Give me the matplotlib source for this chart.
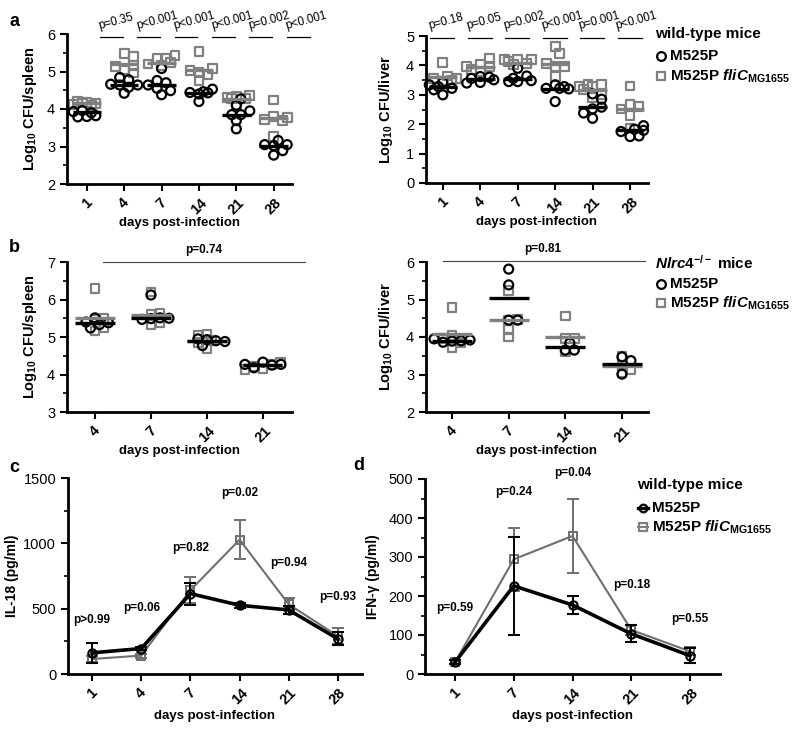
import numpy as np
import matplotlib
matplotlib.use('Agg')
import matplotlib.pyplot as plt
from matplotlib.lines import Line2D
from matplotlib.ticker import MultipleLocator

plt.rcParams['font.family'] = ['Liberation Sans', 'DejaVu Sans']
plt.rcParams['mathtext.fontset'] = 'custom'
plt.rcParams['mathtext.rm'] = 'Liberation Sans:bold'
plt.rcParams['mathtext.it'] = 'Liberation Sans:italic:bold'
plt.rcParams['mathtext.bf'] = 'Liberation Sans:bold'

# ---------------- data ----------------
days_a = ['1', '4', '7', '14', '21', '28']
days_b = ['4', '7', '14', '21']
days_c = ['1', '4', '7', '14', '21', '28']
days_d = ['1', '7', '14', '21', '28']

# panel a, wild-type mice, log10 CFU/spleen
spleen_wt_m525p = [
    [3.80, 3.82, 3.79, 3.93, 3.96, 3.90],
    [4.42, 4.58, 4.64, 4.64, 4.66, 4.78, 4.84],
    [4.38, 4.49, 4.55, 4.64, 4.70, 4.76, 5.08],
    [4.20, 4.40, 4.43, 4.44, 4.46, 4.53],
    [3.47, 3.69, 3.85, 3.85, 3.95, 4.10, 4.27],
    [2.77, 2.89, 3.02, 3.05, 3.05, 3.16],
]
spleen_wt_m525p_center = [3.92, 4.64, 4.63, 4.43, 3.85, 3.02]
spleen_wt_fli = [
    [4.18, 4.15, 4.20, 4.12, 4.16, 4.10],
    [5.47, 5.04, 5.40, 5.16, 5.13, 4.96],
    [5.16, 5.24, 5.35, 5.20, 5.35, 5.42],
    [4.98, 5.53, 4.76, 4.93, 5.02, 5.08],
    [4.34, 4.09, 4.27, 4.31, 4.28, 4.36],
    [3.26, 3.80, 3.69, 4.24, 3.73, 3.78],
]
spleen_wt_fli_center = [4.15, 5.20, 5.22, 5.03, 4.27, 3.75]
spleen_wt_p = ['p=0.35', 'p<0.001', 'p<0.001', 'p<0.001', 'p=0.002', 'p<0.001']

# panel a, wild-type mice, log10 CFU/liver
liver_wt_m525p = [
    [3.00, 3.42, 3.22, 3.17, 3.28, 3.34],
    [3.42, 3.60, 3.56, 3.51, 3.62, 3.40],
    [3.45, 3.64, 3.45, 3.90, 3.48, 3.56],
    [3.34, 2.77, 3.28, 3.22, 3.22, 3.20],
    [2.52, 2.20, 3.03, 2.58, 2.38, 2.85],
    [1.58, 1.83, 1.75, 1.95, 1.60, 1.79],
]
liver_wt_m525p_center = [3.28, 3.54, 3.54, 3.20, 2.60, 1.80]
liver_wt_fli = [
    [3.47, 3.50, 4.10, 3.56, 3.64, 3.56],
    [3.79, 3.96, 4.05, 3.85, 4.24, 3.96],
    [4.19, 4.07, 4.13, 4.02, 4.19, 4.20],
    [3.96, 4.64, 3.62, 4.41, 3.96, 4.07],
    [2.91, 3.28, 3.34, 3.19, 3.28, 3.00, 3.37],
    [1.87, 2.66, 3.30, 2.29, 2.60, 2.52],
]
liver_wt_fli_center = [3.60, 3.93, 4.07, 4.05, 3.16, 2.52]
liver_wt_p = ['p=0.18', 'p=0.05', 'p=0.002', 'p<0.001', 'p=0.001', 'p<0.001']

# panel b, Nlrc4-/- mice
spleen_ko_m525p = [
    [5.51, 5.33, 5.40, 5.24, 5.38],
    [5.49, 6.12, 5.51, 5.47, 5.50],
    [4.93, 4.90, 4.77, 4.95, 4.88],
    [4.33, 4.25, 4.18, 4.27, 4.27],
]
spleen_ko_m525p_center = [5.38, 5.50, 4.89, 4.25]
spleen_ko_fli = [
    [5.16, 5.47, 6.30, 5.50, 5.24],
    [5.33, 5.60, 6.20, 5.38, 5.63],
    [4.69, 5.08, 4.90, 5.05, 4.85],
    [4.16, 4.27, 4.22, 4.31, 4.13],
]
spleen_ko_fli_center = [5.50, 5.60, 4.90, 4.25]
spleen_ko_p = 'p=0.74'

liver_ko_m525p = [
    [3.89, 3.90, 3.86, 3.92, 3.95],
    [4.45, 5.81, 5.39, 4.45],
    [3.65, 3.84, 3.65],
    [3.47, 3.01, 3.37],
]
liver_ko_m525p_center = [3.89, 5.03, 3.73, 3.28]
liver_ko_fli = [
    [3.73, 4.78, 3.84, 4.05, 3.95],
    [4.45, 5.25, 4.20, 4.00, 4.47],
    [3.60, 4.56, 3.95, 3.97],
    [3.25, 3.47, 3.12, 3.05],
]
liver_ko_fli_center = [4.07, 4.45, 4.01, 3.23]
liver_ko_p = 'p=0.81'

# panel c, IL-18 (pg/ml)
il18_m525p = [162, 195, 615, 526, 490, 269]
il18_m525p_err = [76, 15, 85, 20, 30, 50]
il18_fli = [115, 141, 641, 1028, 533, 290]
il18_fli_err = [20, 15, 100, 150, 45, 60]
il18_p = ['p>0.99', 'p=0.06', 'p=0.82', 'p=0.02', 'p=0.94', 'p=0.93']
il18_p_y = [413, 505, 964, 1385, 850, 589]

# panel d, IFN-gamma (pg/ml)
ifn_m525p = [30, 226, 177, 103, 47]
ifn_m525p_err = [5, 125, 22, 22, 20]
ifn_fli = [30, 294, 354, 113, 58]
ifn_fli_err = [5, 80, 95, 12, 10]
ifn_p = ['p=0.59', 'p=0.24', 'p=0.04', 'p=0.18', 'p=0.55']
ifn_p_y = [169, 467, 515, 228, 141]

BLACK = 'black'
GREY = '#808080'
GREY2 = '#6f6f6f'
FLI_LABEL = r'M525P $\mathit{fliC}_{\mathrm{MG1655}}$'

W, H = 800, 731
fig = plt.figure(figsize=(8, 7.31), dpi=100)


def fx(x):
    return x / W


def fy(y):
    return 1 - y / H


def style_axes(ax):
    for s in ['top', 'right']:
        ax.spines[s].set_visible(False)
    for s in ['left', 'bottom']:
        ax.spines[s].set_linewidth(2.0)
    ax.tick_params(axis='both', which='major', width=1.5, length=5, labelsize=10.5, direction='out')
    ax.tick_params(axis='y', which='minor', width=1.2, length=3, direction='out')
    ax.tick_params(axis='x', which='minor', bottom=False)


def set_xcats(ax, labels, lo, hi):
    ax.set_xticks(range(len(labels)))
    ax.set_xticklabels(labels, rotation=45, ha='center', fontweight='bold', fontsize=10.5)
    ax.set_xlim(lo, hi)


def swarm_offsets(vals, ppu_x, ppu_y, diam=7.5, maxoff=0.38):
    placed = []
    offs = []
    step = diam * 0.6
    nmax = int(maxoff * ppu_x / step)
    cands = [0.0]
    for k in range(1, nmax + 1):
        cands += [k * step, -k * step]
    for v in vals:
        y = v * ppu_y
        best, bestd = cands[0], -1.0
        for c in cands:
            d = min([((c - px) ** 2 + (y - py) ** 2) ** 0.5 for px, py in placed] or [1e9])
            if d >= diam:
                best = c
                break
            if d > bestd:
                best, bestd = c, d
        placed.append((best, y))
        offs.append(best / ppu_x)
    return np.array(offs)


def scatter_panel(ax, labels, wt, wt_c, fli, fli_c, ppu_x, ppu_y, half):
    for i in range(len(labels)):
        o = swarm_offsets(fli[i], ppu_x, ppu_y)
        ax.scatter(o + i, fli[i], marker='s', s=40, facecolors='none', edgecolors=GREY,
                   linewidths=1.6, zorder=2, clip_on=False)
        o = swarm_offsets(wt[i], ppu_x, ppu_y)
        ax.scatter(o + i, wt[i], marker='o', s=42, facecolors='none', edgecolors=BLACK,
                   linewidths=1.6, zorder=3, clip_on=False)
        ax.plot([i - half, i + half], [fli_c[i]] * 2, color=GREY, lw=2.4, zorder=4,
                solid_capstyle='butt')
        ax.plot([i - half, i + half], [wt_c[i]] * 2, color=BLACK, lw=2.4, zorder=5,
                solid_capstyle='butt')


# ---------------- panel a spleen ----------------
ax1 = fig.add_axes([fx(67), fy(184), fx(225), 150 / H])
style_axes(ax1)
scatter_panel(ax1, days_a, spleen_wt_m525p, spleen_wt_m525p_center, spleen_wt_fli,
              spleen_wt_fli_center, 37.4, 37.5, 0.38)
ax1.set_ylim(2, 6)
ax1.yaxis.set_major_locator(MultipleLocator(1))
ax1.yaxis.set_minor_locator(MultipleLocator(0.5))
set_xcats(ax1, days_a, -0.53, 5.49)
ax1.set_ylabel(r'Log$_{10}$ CFU/spleen', fontweight='bold', fontsize=10.5, labelpad=6)
ax1.set_xlabel('days post-infection', fontweight='bold', fontsize=9.5, labelpad=0)
for i, p in enumerate(spleen_wt_p):
    ax1.plot([i + 0.35, i + 0.96], [5.91, 5.91], color=BLACK, lw=0.9, clip_on=False)
    ax1.text(i + 0.35, 6.12, p, rotation=15, rotation_mode='anchor', ha='left',
             va='baseline', fontsize=8.4)

# ---------------- panel a liver ----------------
ax2 = fig.add_axes([fx(426), fy(183), fx(222), 147 / H])
style_axes(ax2)
scatter_panel(ax2, days_a, liver_wt_m525p, liver_wt_m525p_center, liver_wt_fli,
              liver_wt_fli_center, 37.4, 29.4, 0.38)
ax2.set_ylim(0, 5)
ax2.yaxis.set_major_locator(MultipleLocator(1))
ax2.yaxis.set_minor_locator(MultipleLocator(0.5))
set_xcats(ax2, days_a, -0.45, 5.48)
ax2.set_ylabel(r'Log$_{10}$ CFU/liver', fontweight='bold', fontsize=10.5, labelpad=8)
ax2.set_xlabel('days post-infection', fontweight='bold', fontsize=9.5, labelpad=0)
for i, p in enumerate(liver_wt_p):
    ax2.plot([i - 0.33, i + 0.31], [4.93, 4.93], color=BLACK, lw=0.9, clip_on=False)
    ax2.text(i - 0.35, 5.24, p, rotation=15, rotation_mode='anchor', ha='left',
             va='baseline', fontsize=8.4)

# ---------------- panel b spleen ----------------
ax3 = fig.add_axes([fx(67), fy(412), fx(225), 150 / H])
style_axes(ax3)
scatter_panel(ax3, days_b, spleen_ko_m525p, spleen_ko_m525p_center, spleen_ko_fli,
              spleen_ko_fli_center, 56.0, 37.5, 0.35)
ax3.set_ylim(3, 7)
ax3.yaxis.set_major_locator(MultipleLocator(1))
ax3.yaxis.set_minor_locator(MultipleLocator(0.5))
set_xcats(ax3, days_b, -0.5, 3.52)
ax3.set_ylabel(r'Log$_{10}$ CFU/spleen', fontweight='bold', fontsize=10.5, labelpad=6)
ax3.set_xlabel('days post-infection', fontweight='bold', fontsize=9.5, labelpad=0)
ax3.plot([0.14, 3.75], [7, 7], color='#444444', lw=0.8, clip_on=False)
ax3.text(1.95, 7.32, spleen_ko_p, ha='center', va='center', fontsize=8.5, fontweight='bold')

# ---------------- panel b liver ----------------
ax4 = fig.add_axes([fx(426), fy(412), fx(222), 150 / H])
style_axes(ax4)
scatter_panel(ax4, days_b, liver_ko_m525p, liver_ko_m525p_center, liver_ko_fli,
              liver_ko_fli_center, 56.7, 37.5, 0.35)
ax4.set_ylim(2, 6)
ax4.yaxis.set_major_locator(MultipleLocator(1))
ax4.yaxis.set_minor_locator(MultipleLocator(0.5))
set_xcats(ax4, days_b, -0.46, 3.46)
ax4.set_ylabel(r'Log$_{10}$ CFU/liver', fontweight='bold', fontsize=10.5, labelpad=8)
ax4.set_xlabel('days post-infection', fontweight='bold', fontsize=9.5, labelpad=0)
ax4.plot([-0.16, 3.4], [6.03, 6.03], color='#444444', lw=0.8, clip_on=False)
ax4.text(1.6, 6.35, liver_ko_p, ha='center', va='center', fontsize=8.5, fontweight='bold')


def line_panel(ax, labels, wt, wt_e, fli, fli_e):
    x = np.arange(len(labels))
    ax.errorbar(x, fli, yerr=fli_e, color=GREY2, marker='s', mfc='none', mec=GREY2, ms=6,
                mew=1.4, lw=1.5, capsize=4.5, elinewidth=1.4, capthick=1.4, zorder=3,
                clip_on=False)
    ax.errorbar(x, wt, yerr=wt_e, color=BLACK, marker='o', mfc='none', mec=BLACK, ms=6,
                mew=1.5, lw=2.6, capsize=4.5, elinewidth=1.4, capthick=1.4, zorder=4,
                clip_on=False)


# ---------------- panel c ----------------
ax5 = fig.add_axes([fx(68), fy(674), fx(294), 196 / H])
style_axes(ax5)
line_panel(ax5, days_c, il18_m525p, il18_m525p_err, il18_fli, il18_fli_err)
ax5.set_ylim(0, 1500)
ax5.yaxis.set_major_locator(MultipleLocator(500))
ax5.yaxis.set_minor_locator(MultipleLocator(250))
set_xcats(ax5, days_c, -0.49, 5.49)
ax5.set_ylabel('IL-18 (pg/ml)', fontweight='bold', fontsize=10, labelpad=3)
ax5.set_xlabel('days post-infection', fontweight='bold', fontsize=9.5, labelpad=2)
for i, (p, yv) in enumerate(zip(il18_p, il18_p_y)):
    ax5.text(i, yv, p, ha='center', va='center', fontsize=8.5, fontweight='bold')

# ---------------- panel d ----------------
ax6 = fig.add_axes([fx(425), fy(674), fx(295), 195 / H])
style_axes(ax6)
line_panel(ax6, days_d, ifn_m525p, ifn_m525p_err, ifn_fli, ifn_fli_err)
ax6.set_ylim(0, 500)
ax6.yaxis.set_major_locator(MultipleLocator(100))
ax6.yaxis.set_minor_locator(MultipleLocator(50))
set_xcats(ax6, days_d, -0.51, 4.51)
ax6.set_ylabel('IFN-γ (pg/ml)', fontweight='bold', fontsize=10, labelpad=6)
ax6.set_xlabel('days post-infection', fontweight='bold', fontsize=9.5, labelpad=2)
for i, (p, yv) in enumerate(zip(ifn_p, ifn_p_y)):
    ax6.text(i, yv, p, ha='center', va='center', fontsize=8.5, fontweight='bold')

# ---------------- panel letters ----------------
for lab, x, y in [('a', 14, 22), ('b', 14, 248), ('c', 14, 467), ('d', 359, 465)]:
    fig.text(fx(x), fy(y), lab, fontsize=13, fontweight='bold', ha='center', va='center')


# ---------------- legends ----------------
def legend_block(title, x0, ytitle, y1, y2, with_lines=False):
    fig.text(fx(x0), fy(ytitle), title, fontsize=11, fontweight='bold', ha='left', va='center')
    mx = x0 + 6
    for yy, mk, col, lab in [(y1, 'o', BLACK, 'M525P'), (y2, 's', GREY, FLI_LABEL)]:
        if with_lines:
            fig.add_artist(Line2D([fx(mx - 5), fx(mx + 5)], [fy(yy), fy(yy)],
                                  transform=fig.transFigure, color=col,
                                  lw=2.4 if mk == 'o' else 1.5))
        fig.add_artist(Line2D([fx(mx)], [fy(yy)], transform=fig.transFigure, marker=mk,
                              ms=6.3 if not with_lines else 5.5, mfc='none',
                              mec=col, mew=1.6, linestyle='none'))
        fig.text(fx(mx + 9), fy(yy), lab, fontsize=11, fontweight='bold', ha='left',
                 va='center')


legend_block('wild-type mice', 655, 34, 56, 76)
legend_block(r'$\mathit{Nlrc4}^{-/-}$ mice', 655, 263, 284, 303)
legend_block('wild-type mice', 637, 485, 508, 527, with_lines=True)

fig.savefig('out.png', dpi=100)
